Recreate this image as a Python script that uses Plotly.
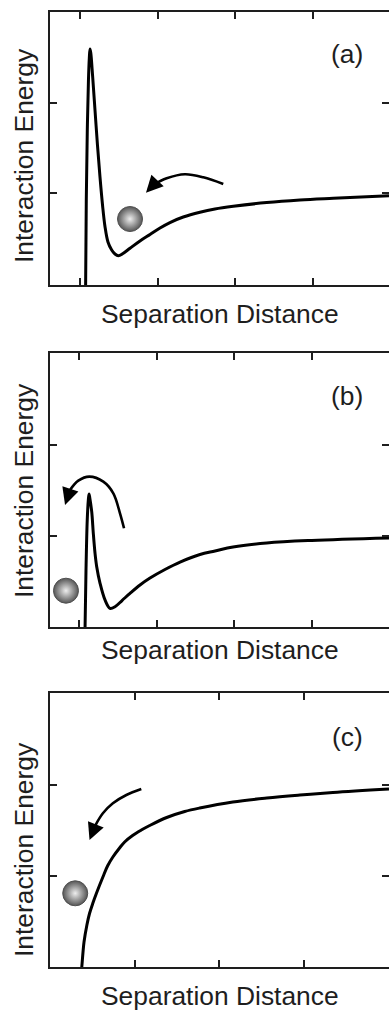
import plotly.graph_objects as go

# ---------------- data ----------------
# Panel (a): secondary minimum + high barrier
curve_a_x = [1.072, 1.081, 1.094, 1.109, 1.120, 1.129, 1.139, 1.163, 1.193, 1.225, 1.257,
             1.290, 1.322, 1.360, 1.408, 1.450, 1.493, 1.553, 1.644, 1.772, 1.901, 2.030,
             2.158, 2.329, 2.544, 2.737, 2.973, 3.403, 3.831, 4.260, 4.977]
curve_a_y = [-1.078, -0.078, 0.700, 1.256, 1.500, 1.600, 1.556, 1.292, 0.922, 0.533, 0.181,
             -0.133, -0.374, -0.544, -0.633, -0.678, -0.697, -0.672, -0.614, -0.533, -0.461,
             -0.389, -0.328, -0.267, -0.214, -0.178, -0.148, -0.106, -0.078, -0.059, -0.030]

# Panel (b): lower barrier
curve_b_x = [1.077, 1.090, 1.106, 1.120, 1.129, 1.139, 1.164, 1.184, 1.206, 1.228, 1.271,
             1.335, 1.399, 1.464, 1.554, 1.657, 1.786, 1.915, 2.108, 2.302, 2.559, 2.753,
             2.985, 3.419, 3.999, 4.995]
curve_b_y = [-1.055, -0.374, 0.176, 0.396, 0.462, 0.418, 0.264, 0.030, -0.187, -0.337,
             -0.520, -0.703, -0.795, -0.777, -0.709, -0.630, -0.538, -0.462, -0.368, -0.286,
             -0.203, -0.165, -0.121, -0.077, -0.049, -0.022]

# Panel (c): no barrier
curve_c_x = [0.367, 0.376, 0.402, 0.436, 0.467, 0.507, 0.550, 0.625, 0.680, 0.743, 0.822,
             0.882, 0.976, 1.079, 1.178, 1.379, 1.592, 1.769, 2.160, 2.562, 2.953, 3.343,
             4.006]
curve_c_y = [-1.088, -0.997, -0.725, -0.538, -0.412, -0.297, -0.187, -0.011, 0.110, 0.209,
             0.308, 0.374, 0.445, 0.505, 0.555, 0.643, 0.709, 0.747, 0.813, 0.857, 0.890,
             0.918, 0.956]

# Curved arrows (last point = arrow tip)
arrow_a_x = [2.844, 2.587, 2.351, 2.116, 1.943, 1.849]
arrow_a_y = [0.100, 0.174, 0.208, 0.163, 0.089, 0.003]
arrow_b_x = [1.580, 1.528, 1.442, 1.313, 1.133, 0.991, 0.884, 0.820]
arrow_b_y = [0.085, 0.249, 0.469, 0.597, 0.652, 0.608, 0.505, 0.341]
arrow_c_x = [1.079, 0.902, 0.743, 0.625, 0.538, 0.467]
arrow_c_y = [0.956, 0.890, 0.799, 0.689, 0.560, 0.396]

# Particles (balls)
ball_x = [1.644, 0.832, 0.298]
ball_y = [-0.289, -0.601, -0.190]

panel_labels = ["(a)", "(b)", "(c)"]
x_title = "Separation Distance"
y_title = "Interaction Energy"

x_ranges = [[0.614, 4.977], [0.626, 4.995], [0.0, 4.006]]
y_ranges = [[-1.022, 2.011], [-1.0, 2.016], [-1.0, 2.011]]
x_tickvals = [[1, 2, 3, 4], [1, 2, 3, 4], [1, 2, 3]]
y_tickvals = [[0, 1], [0, 1], [0, 1]]

# ---------------- layout geometry ----------------
W, H = 389, 1013
left_px = 50
tops = [12, 352.5, 693]
bottoms = [285, 627, 967]
FONT = "Arial, Liberation Sans, sans-serif"
INK = "#1e1e1e"

fig = go.Figure()

curves = [(curve_a_x, curve_a_y), (curve_b_x, curve_b_y), (curve_c_x, curve_c_y)]
arrows = [(arrow_a_x, arrow_a_y), (arrow_b_x, arrow_b_y), (arrow_c_x, arrow_c_y)]

annotations = []
layout_axes = {}
for i in range(3):
    xa = "x" if i == 0 else f"x{i+1}"
    ya = "y" if i == 0 else f"y{i+1}"
    yr = f"y{i+4}"
    cx, cy = curves[i]
    fig.add_trace(go.Scatter(x=cx, y=cy, xaxis=xa, yaxis=ya, mode="lines",
                             line=dict(color="black", width=3, shape="spline", smoothing=1.0),
                             hoverinfo="skip"))
    ax_, ay_ = arrows[i]
    fig.add_trace(go.Scatter(x=ax_[:-1], y=ay_[:-1], xaxis=xa, yaxis=ya, mode="lines",
                             line=dict(color="black", width=2.6, shape="spline", smoothing=1.0),
                             hoverinfo="skip"))
    annotations.append(dict(x=ax_[-1], y=ay_[-1], ax=ax_[-2], ay=ay_[-2], xref=xa, yref=ya,
                            axref=xa, ayref=ya, text="", showarrow=True, arrowhead=2,
                            arrowsize=1.3, arrowwidth=2.6, arrowcolor="black", standoff=0))
    fig.add_trace(go.Scatter(x=[ball_x[i]], y=[ball_y[i]], xaxis=xa, yaxis=ya, mode="markers",
                             marker=dict(size=25, color="#555555",
                                         gradient=dict(type="radial", color="#eeeeee"),
                                         line=dict(color="#505050", width=1)),
                             cliponaxis=False, hoverinfo="skip"))
    # invisible trace for the right-hand tick axis
    fig.add_trace(go.Scatter(x=[None], y=[None], xaxis=xa, yaxis=yr, mode="lines",
                             hoverinfo="skip"))

    y0 = 1 - bottoms[i] / H
    y1 = 1 - tops[i] / H
    common = dict(showgrid=False, zeroline=False, showticklabels=False, ticks="inside",
                  ticklen=7, tickwidth=1.5, tickcolor=INK, linecolor=INK, linewidth=2)
    layout_axes["xaxis" if i == 0 else f"xaxis{i+1}"] = dict(
        domain=[left_px / W, 1], anchor=ya, range=x_ranges[i], tickvals=x_tickvals[i],
        showline=True, mirror="ticks", **common)
    layout_axes["yaxis" if i == 0 else f"yaxis{i+1}"] = dict(
        domain=[y0, y1], anchor=xa, range=y_ranges[i], tickvals=y_tickvals[i],
        showline=True, mirror=False, **common)
    layout_axes[f"yaxis{i+4}"] = dict(
        overlaying=ya, side="right", anchor=xa, range=y_ranges[i], tickvals=y_tickvals[i],
        showline=False, **common)

fig.update_layout(**layout_axes)

# text annotations
label_y = [54, 396, 737]
xtitle_y = [314, 650, None]
ytitle_y = [156, 491, 850]
for i in range(3):
    annotations.append(dict(x=347 / W, y=1 - label_y[i] / H, xref="paper", yref="paper",
                            text=panel_labels[i], showarrow=False, xanchor="center",
                            yanchor="middle", font=dict(family=FONT, size=26.4, color=INK)))
    if xtitle_y[i] is not None:
        annotations.append(dict(x=220 / W, y=1 - xtitle_y[i] / H, xref="paper", yref="paper",
                                text=x_title, showarrow=False, xanchor="center",
                                yanchor="middle", font=dict(family=FONT, size=26.4, color=INK)))
    else:
        annotations.append(dict(x=220 / W, y=0, xref="paper", yref="paper",
                                text=x_title, showarrow=False, xanchor="center",
                                yanchor="bottom", font=dict(family=FONT, size=26.4, color=INK)))
    annotations.append(dict(x=24 / W, y=1 - ytitle_y[i] / H, xref="paper", yref="paper",
                            text=y_title, textangle=-90, showarrow=False, xanchor="center",
                            yanchor="middle", font=dict(family=FONT, size=26.4, color=INK)))

fig.update_layout(width=W, height=H, margin=dict(l=0, r=0, t=0, b=0),
                  paper_bgcolor="white", plot_bgcolor="white", showlegend=False,
                  annotations=annotations)

fig.write_html("out.html", config={"displayModeBar": False})
